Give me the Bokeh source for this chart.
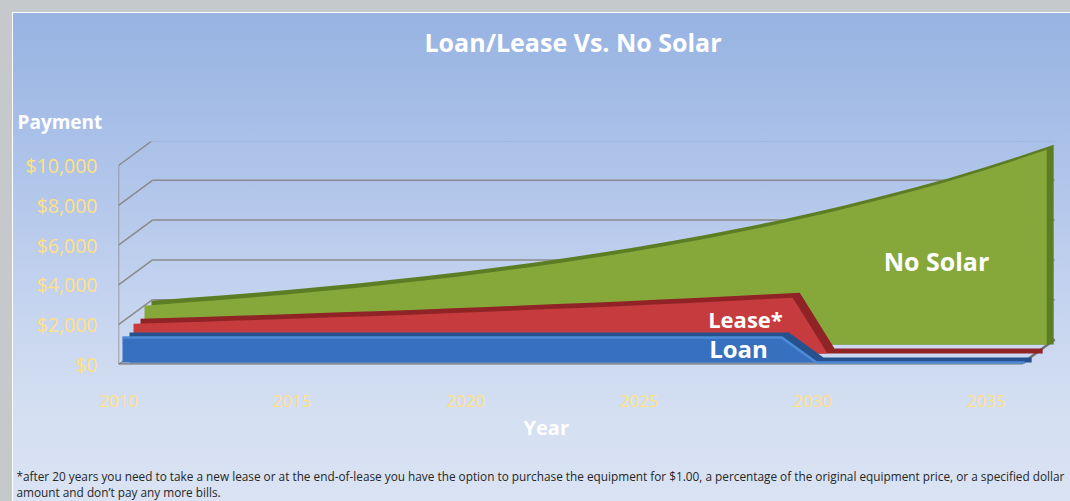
import numpy as np
from bokeh.plotting import figure
from bokeh.models import (ColumnDataSource, FixedTicker, NumeralTickFormatter, Label, Title,
                          Range1d, GlobalInlineStyleSheet)
from bokeh.embed import file_html
from bokeh.resources import INLINE

# ---------------- data ----------------
years = [2010, 2011, 2012, 2013, 2014, 2015, 2016, 2017, 2018, 2019, 2020, 2021, 2022, 2023,
         2024, 2025, 2026, 2027, 2028, 2029, 2030, 2031, 2032, 2033, 2034, 2035, 2036]
no_solar = [1950, 2080, 2210, 2350, 2500, 2660, 2830, 3010, 3200, 3410, 3630, 3860, 4110, 4370,
            4650, 4950, 5260, 5600, 5960, 6340, 6740, 7180, 7640, 8120, 8640, 9200, 9790]
lease = [1500, 1550, 1600, 1655, 1710, 1770, 1830, 1890, 1950, 2020, 2085, 2155, 2230, 2300,
         2380, 2460, 2540, 2630, 2715, 2800, 0, 0, 0, 0, 0, 0, 0]
loan = [1250, 1250, 1250, 1250, 1250, 1250, 1250, 1250, 1250, 1250, 1250, 1250, 1250, 1250,
        1250, 1250, 1250, 1250, 1250, 1250, 0, 0, 0, 0, 0, 0, 0]
y_ticks = [0, 2000, 4000, 6000, 8000, 10000]
x_ticks = [2010, 2015, 2020, 2025, 2030, 2035]

title = "Loan/Lease Vs. No Solar"
y_title = "Payment"
x_title = "Year"
footnote = ("*after 20 years you need to take a new lease or at the end-of-lease you have the option "
            "to purchase the equipment  for $1.00, a percentage of the original equipment  price, "
            "or a specified dollar\namount and don\u2019t pay any more bills.")

# ---------------- geometry / style ----------------
PX_YEAR = 34.7
PX_DOLLAR = 0.0199
X0, X1 = 2010, 2037.09
Y0, Y1 = 0, 11206

def yrs(px):
    return px / PX_YEAR

def dol(px):
    return px / PX_DOLLAR

WALL_DX, WALL_DY = yrs(34), dol(25)
THICK_DX, THICK_DY = yrs(7), dol(5)

YELLOW = "#FFE084"
FONT = "Open Sans"

body_css = GlobalInlineStyleSheet(css="html, body {margin:0; padding:0; background:#c6c9cc; overflow:hidden;}")

p = figure(width=1058, height=489, x_range=Range1d(X0, X1), y_range=Range1d(Y0, Y1),
           output_backend="svg", toolbar_location=None,
           min_border_left=106, min_border_right=12, min_border_top=129, min_border_bottom=137,
           margin=(12, 0, 0, 12), stylesheets=[body_css],
           styles={"background": "linear-gradient(to bottom, #97b3e2 0%, #a9c0e8 25%, #bccded 48%, "
                                 "#cbd8f0 68%, #d4dff2 82%, #d9e3f3 100%)",
                   "box-shadow": "inset 1px 1px 0 0 #ffffff"})
p.background_fill_alpha = 0
p.border_fill_alpha = 0
p.outline_line_color = None
p.grid.visible = False

# axes
p.yaxis.ticker = FixedTicker(ticks=y_ticks)
p.yaxis.formatter = NumeralTickFormatter(format="$0,0")
p.xaxis.ticker = FixedTicker(ticks=x_ticks)
for ax in (p.xaxis, p.yaxis):
    ax.axis_line_color = None
    ax.major_tick_line_color = None
    ax.minor_tick_line_color = None
    ax.major_tick_in = 0
    ax.major_tick_out = 0
    ax.minor_tick_out = 0
    ax.major_label_text_color = YELLOW
    ax.major_label_text_font = FONT
p.yaxis.major_label_text_font_size = "19.5px"
p.yaxis.major_label_standoff = 21
p.xaxis.major_label_text_font_size = "17px"
p.xaxis.major_label_standoff = 30

# ---------------- titles stacked in the side panels ----------------
def title_obj(text, size, standoff, offset=0, align="left", bold=True, color="white", line_height=1.2):
    return Title(text=text, text_font=FONT, text_font_size=size,
                 text_font_style="bold" if bold else "normal", text_color=color,
                 align=align, offset=offset, standoff=standoff, text_line_height=line_height)

# above: nearest the frame first
p.add_layout(title_obj(y_title, "19px", 13, offset=-101), "above")
p.add_layout(title_obj(" ", "10px", 17), "above")
p.add_layout(title_obj(title, "25px", 17, offset=306), "above")
# below: after the axis
p.add_layout(title_obj(x_title, "20px", 4, offset=405), "below")
p.add_layout(title_obj(" ", "10px", 7), "below")
p.add_layout(title_obj(footnote, "11.8px", 0, offset=-102, bold=False, color="#262626", line_height=1.0), "below")

# ---------------- 3-D walls ----------------
grid_color = "#8a8a8a"
yt = np.array(y_ticks, dtype=float)
left_x0 = np.full(len(yt), float(years[0]))
p.segment(x0=left_x0, y0=yt, x1=left_x0 + WALL_DX, y1=yt + WALL_DY,
          line_color=grid_color, line_width=1.5)
p.segment(x0=left_x0 + WALL_DX, y0=yt + WALL_DY,
          x1=np.full(len(yt), years[-1] + WALL_DX), y1=yt + WALL_DY,
          line_color=grid_color, line_width=1.5)
p.segment(x0=[years[0]], y0=[y_ticks[0]], x1=[years[0]], y1=[y_ticks[-1]],
          line_color=grid_color, line_width=1.5)
p.segment(x0=[years[0], years[-1]], y0=[0, 0], x1=[years[-1], years[-1] + WALL_DX], y1=[0, WALL_DY],
          line_color="#707070", line_width=2.5)

# ---------------- series (back to front) ----------------
series = [
    ("No Solar", no_solar, 26, 20, "#86a83b", "#5d7d25", None),
    ("Lease", lease, 15, 11, "#c63b3e", "#8f2326", None),
    ("Loan", loan, 4, 2, "#3670be", "#25528f", "#4d8bd7"),
]
yr = np.array(years, dtype=float)
for name, vals, dxp, dyp, front, back, edge in series:
    v = np.array(vals, dtype=float)
    dx, dy = yrs(dxp), dol(dyp)
    src = ColumnDataSource(dict(
        xf=yr + dx, bf=np.full(len(yr), dy), tf=v + dy,
        xb=yr + dx + THICK_DX, tb=v + dy + THICK_DY,
    ))
    p.varea(x="xb", y1="bf", y2="tb", source=src, fill_color=back)
    p.varea(x="xf", y1="bf", y2="tf", source=src, fill_color=front)
    if edge is not None:
        p.line(x="xf", y="tf", source=src, line_color=edge, line_width=2.5)

# ---------------- in-plot series labels ----------------
def lab(text, sx, sy, size):
    p.add_layout(Label(x=sx, y=sy, x_units="screen", y_units="screen", text=text,
                       text_font=FONT, text_font_size=size, text_font_style="bold",
                       text_color="white", text_align="center", text_baseline="middle"))

lab("No Solar", 818, 104, "25px")
lab("Lease*", 627, 46, "22px")
lab("Loan", 620, 16, "24px")

open("out.html", "w").write(file_html(p, INLINE))
